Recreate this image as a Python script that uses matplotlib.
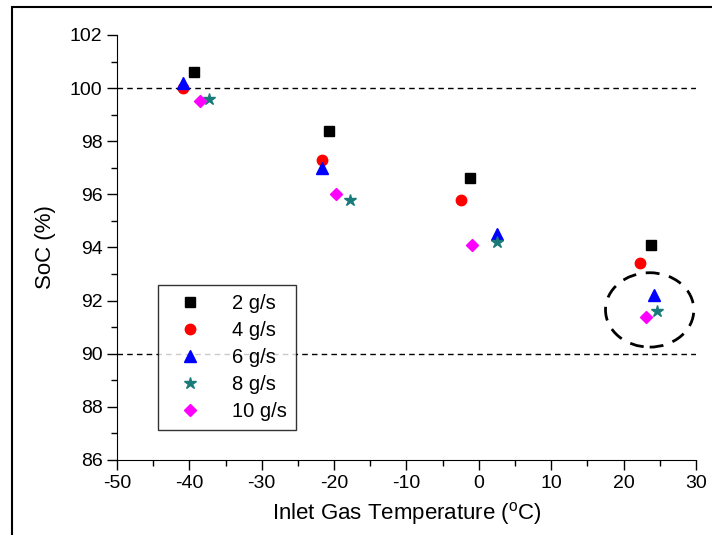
import matplotlib.pyplot as plt
from matplotlib.patches import Ellipse, Rectangle
from matplotlib.ticker import MultipleLocator

plt.rcParams['font.family'] = ['Liberation Sans', 'DejaVu Sans']
plt.rcParams['axes.unicode_minus'] = False

# data
temp_2 = [-39.4, -20.7, -1.2, 23.8]
soc_2 = [100.6, 98.4, 96.6, 94.1]
temp_4 = [-40.9, -21.7, -2.5, 22.2]
soc_4 = [100.0, 97.3, 95.8, 93.4]
temp_6 = [-40.9, -21.7, 2.5, 24.2]
soc_6 = [100.2, 97.0, 94.5, 92.2]
temp_8 = [-37.3, -17.8, 2.5, 24.6]
soc_8 = [99.6, 95.8, 94.2, 91.6]
temp_10 = [-38.5, -19.8, -1.0, 23.1]
soc_10 = [99.5, 96.0, 94.1, 91.4]

fig = plt.figure(figsize=(7.12, 5.35), dpi=100)
ax = fig.add_axes([0.1643, 0.1402, 0.8132, 0.7944])

# frame around the whole figure (cut off at right/bottom like the scan)
fig.patches.append(Rectangle((12 / 712, -0.1), 1.2, 1 - 7 / 535 + 0.1,
                             transform=fig.transFigure, fill=False,
                             edgecolor='black', linewidth=1.5))

ax.axhline(100, color='black', ls=(0, (4, 3)), lw=1)
ax.axhline(90, color='black', ls=(0, (4, 3)), lw=1)

ax.plot(temp_2, soc_2, 's', color='black', ms=7, ls='none', label='2 g/s')
ax.plot(temp_4, soc_4, 'o', color='red', ms=7.5, ls='none', label='4 g/s')
ax.plot(temp_6, soc_6, '^', color='blue', ms=8, ls='none', label='6 g/s')
ax.plot(temp_8, soc_8, '*', color='#1a7a7a', ms=9, ls='none', label='8 g/s')
ax.plot(temp_10, soc_10, 'D', color='magenta', ms=6.5, ls='none', label='10 g/s')

ax.add_patch(Ellipse((23.6, 91.65), 12.2, 2.8, fill=False, edgecolor='black',
                     lw=2, ls=(0, (5, 3.5))))

ax.set_xlim(-50, 30)
ax.set_ylim(86, 102)
ax.xaxis.set_major_locator(MultipleLocator(10))
ax.xaxis.set_minor_locator(MultipleLocator(5))
ax.yaxis.set_major_locator(MultipleLocator(2))
ax.yaxis.set_minor_locator(MultipleLocator(1))
ax.tick_params(which='major', direction='out', length=7, width=1, labelsize=14)
ax.tick_params(which='minor', direction='out', length=4, width=1)
ax.spines['top'].set_visible(False)
ax.spines['right'].set_visible(False)

ax.set_xlabel('Inlet Gas Temperature ($^\\mathregular{o}$C)', fontsize=16, labelpad=6)
ax.set_ylabel('SoC (%)', fontsize=16, labelpad=10)

leg = ax.legend(loc='lower left', bbox_to_anchor=(0.071, 0.07), fontsize=14.5,
                frameon=True, fancybox=False, edgecolor='black',
                handlelength=2.3, handletextpad=0.9, labelspacing=0.4,
                borderpad=0.45, borderaxespad=0)
leg.get_frame().set_linewidth(1)

fig.savefig('out.png', dpi=100)
